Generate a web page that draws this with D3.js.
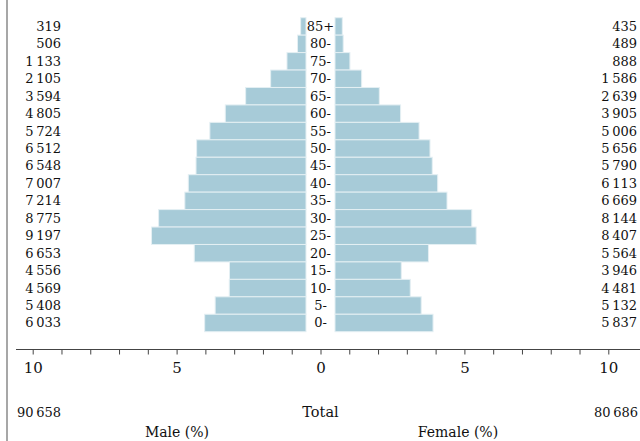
<!DOCTYPE html>
<html><head><meta charset="utf-8">
<script src="https://cdn.jsdelivr.net/npm/d3@7"></script>
<style>
html,body{margin:0;padding:0;background:#fff;}
svg{display:block;font-family:"DejaVu Serif",serif;}
</style></head>
<body><svg id="c" width="640" height="441"></svg>
<script>
const ages = ["85+","80-","75-","70-","65-","60-","55-","50-","45-","40-","35-","30-","25-","20-","15-","10-","5-","0-"];
const male = [319,506,1133,2105,3594,4805,5724,6512,6548,7007,7214,8775,9197,6653,4556,4569,5408,6033];
const female = [435,489,888,1586,2639,3905,5006,5656,5790,6113,6669,8144,8407,5564,3946,4481,5132,5837];
const maleTotal = 90658;
const femaleTotal = 80686;
const tickValues = [0,1,2,3,4,5,6,7,8,9,10];
const labeledTicks = [0,5,10];

const svg = d3.select("#c");
const loc = d3.formatLocale({decimal:".", thousands:"\u2009", grouping:[3], currency:["",""]});
const fmt = loc.format(",d");
const grand = maleTotal + femaleTotal;
const pct = v => v / grand * 100;

const center = 320.5;
const unit = 28.78;
const xL = d3.scaleLinear().domain([10,0]).range([center-10*unit, center]);
const xR = d3.scaleLinear().domain([0,10]).range([center, center+10*unit]);
const w = d3.scaleLinear().domain([0,10]).range([0,10*unit]);
const y = d3.scaleBand().domain(ages).range([17.7,331.7]).padding(0);
const barColor = "#a7cbd8";
const maleEdge = 306, femaleEdge = 335;

// left frame line
svg.append("line").attr("x1",7).attr("x2",7).attr("y1",0).attr("y2",441)
  .attr("stroke","#8a8a8a").attr("stroke-width",1.5);

// bars
svg.append("g").selectAll("rect").data(ages).join("rect")
  .attr("x",(d,i)=>maleEdge - w(pct(male[i])))
  .attr("y",d=>y(d))
  .attr("width",(d,i)=>w(pct(male[i])))
  .attr("height",y.bandwidth())
  .attr("fill",barColor).attr("stroke","#e4eff3").attr("stroke-width",1);
svg.append("g").selectAll("rect").data(ages).join("rect")
  .attr("x",femaleEdge)
  .attr("y",d=>y(d))
  .attr("width",(d,i)=>w(pct(female[i])))
  .attr("height",y.bandwidth())
  .attr("fill",barColor).attr("stroke","#e4eff3").attr("stroke-width",1);

// age labels
svg.append("g").selectAll("text").data(ages).join("text")
  .attr("x",center).attr("y",d=>y(d)+y.bandwidth()/2)
  .attr("text-anchor","middle").attr("dominant-baseline","central")
  .attr("font-size",13).attr("fill","#111").text(d=>d);

// counts
svg.append("g").selectAll("text").data(male).join("text")
  .attr("x",61).attr("y",(d,i)=>y(ages[i])+y.bandwidth()/2)
  .attr("text-anchor","end").attr("dominant-baseline","central")
  .attr("font-size",13).attr("fill","#111").text(d=>fmt(d));
svg.append("g").selectAll("text").data(female).join("text")
  .attr("x",637).attr("y",(d,i)=>y(ages[i])+y.bandwidth()/2)
  .attr("text-anchor","end").attr("dominant-baseline","central")
  .attr("font-size",13).attr("fill","#111").text(d=>fmt(d));

// axis
const axisY = 349.5;
svg.append("line").attr("x1",16).attr("x2",640).attr("y1",axisY).attr("y2",axisY)
  .attr("stroke","#444").attr("stroke-width",1);
const tf = d => labeledTicks.includes(d) ? String(d) : "";
const gL = svg.append("g").attr("transform",`translate(0,${axisY})`)
  .call(d3.axisBottom(xL).tickValues(tickValues).tickFormat(tf).tickSize(5).tickSizeOuter(0).tickPadding(8));
const gR = svg.append("g").attr("transform",`translate(0,${axisY})`)
  .call(d3.axisBottom(xR).tickValues(tickValues.slice(1)).tickFormat(tf).tickSize(5).tickSizeOuter(0).tickPadding(8));
[gL,gR].forEach(g=>{
  g.select(".domain").remove();
  g.selectAll(".tick line").attr("stroke","#444");
  g.selectAll("text").attr("font-family","DejaVu Serif").attr("font-size",15).attr("fill","#111");
});

// totals
svg.append("text").attr("x",17).attr("y",417).attr("font-size",13).attr("fill","#111").text(fmt(maleTotal));
svg.append("text").attr("x",638).attr("y",417).attr("text-anchor","end").attr("font-size",13).attr("fill","#111").text(fmt(femaleTotal));
svg.append("text").attr("x",center).attr("y",417).attr("text-anchor","middle").attr("font-size",14.5).attr("fill","#111").text("Total");
svg.append("text").attr("x",177).attr("y",437).attr("text-anchor","middle").attr("font-size",14).attr("fill","#111").text("Male (%)");
svg.append("text").attr("x",458).attr("y",437).attr("text-anchor","middle").attr("font-size",14).attr("fill","#111").text("Female (%)");
</script></body></html>
